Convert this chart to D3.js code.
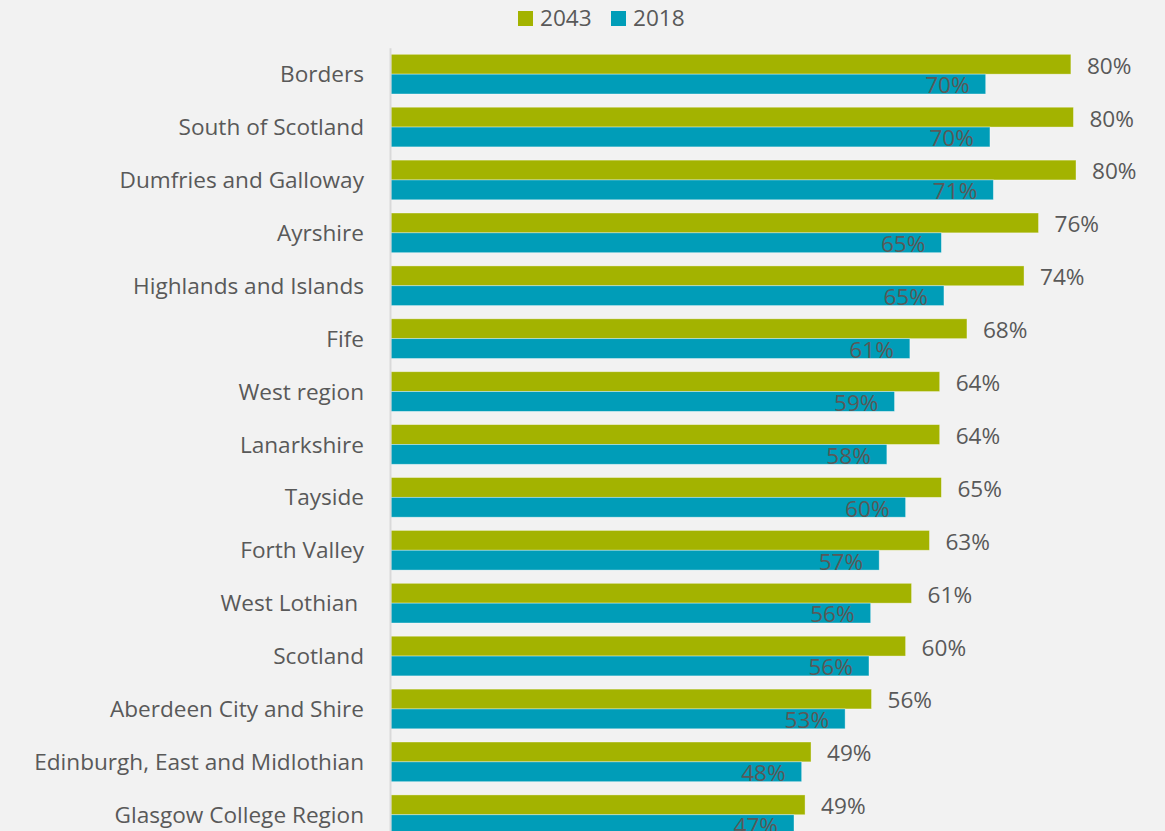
<!DOCTYPE html>
<html>
<head>
<meta charset="utf-8">
<script src="https://cdn.jsdelivr.net/npm/d3@7"></script>
<style>
  body { margin: 0; background: #f2f2f2; }
  svg { display: block; font-family: "Open Sans", sans-serif; }
  .axis text { fill: #595959; font-family: "Open Sans", sans-serif; font-size: 22.6px; white-space: pre; }
  .axis path { stroke: #d9d9d9; stroke-width: 2; }
  .label { fill: #595959; font-size: 22.6px; }
</style>
</head>
<body>
<script>
  var categories = [
    "Borders", "South of Scotland", "Dumfries and Galloway", "Ayrshire",
    "Highlands and Islands", "Fife", "West region", "Lanarkshire", "Tayside",
    "Forth Valley", "West Lothian ", "Scotland", "Aberdeen City and Shire",
    "Edinburgh, East and Midlothian", "Glasgow College Region"
  ];
  var series = ["2043", "2018"];
  var values2043 = [79.8, 80.1, 80.4, 76.0, 74.3, 67.6, 64.4, 64.4, 64.6, 63.2, 61.1, 60.4, 56.4, 49.3, 48.6];
  var values2018 = [69.8, 70.3, 70.7, 64.6, 64.9, 60.9, 59.1, 58.2, 60.4, 57.3, 56.3, 56.1, 53.3, 48.2, 47.3];
  var colors = ["#a3b300", "#009db8"];

  var width = 1165, height = 831;

  var rows = categories.map(function(c, i) {
    return { name: c, values: [values2043[i], values2018[i]] };
  });

  var svg = d3.select("body").append("svg")
      .attr("width", width)
      .attr("height", height);

  var xScale = d3.scaleLinear()
      .domain([0, 100])
      .range([391, 1243]);

  var yScale = d3.scaleBand()
      .domain(categories)
      .range([47.7, 841.2])
      .paddingInner(0.25)
      .paddingOuter(0.125);

  var subScale = d3.scaleBand()
      .domain(series)
      .range([0, yScale.bandwidth()]);

  // legend
  var legend = svg.selectAll(".legend")
      .data(series)
    .enter().append("g")
      .attr("class", "legend")
      .attr("transform", function(d, i) { return "translate(" + (518 + i * 93) + ",11)"; });

  legend.append("rect")
      .attr("width", 15)
      .attr("height", 15)
      .attr("fill", function(d, i) { return colors[i]; });

  legend.append("text")
      .attr("class", "label")
      .attr("x", 22)
      .attr("y", 15)
      .text(function(d) { return d; });

  var groups = svg.selectAll(".group")
      .data(rows)
    .enter().append("g")
      .attr("class", "group")
      .attr("transform", function(d) { return "translate(0," + yScale(d.name) + ")"; });

  groups.selectAll("rect")
      .data(function(d) { return d.values; })
    .enter().append("rect")
      .attr("x", xScale(0))
      .attr("y", function(d, i) { return subScale(series[i]); })
      .attr("width", function(d) { return xScale(d) - xScale(0); })
      .attr("height", subScale.bandwidth())
      .attr("fill", function(d, i) { return colors[i]; })
      .attr("stroke", "rgba(255,255,255,0.45)")
      .attr("stroke-width", 0.8);

  // 2043 labels outside end, 2018 labels inside end
  groups.selectAll(".label")
      .data(function(d) { return d.values; })
    .enter().append("text")
      .attr("class", "label")
      .attr("x", function(d, i) { return i === 0 ? xScale(d) + 16 : xScale(d) - 16; })
      .attr("y", function(d, i) { return subScale(series[i]) + subScale.bandwidth() - 0.5; })
      .attr("text-anchor", function(d, i) { return i === 0 ? "start" : "end"; })
      .text(function(d) { return Math.round(d) + "%"; });

  svg.append("g")
      .attr("class", "axis")
      .attr("transform", "translate(390,0)")
      .call(d3.axisLeft(yScale).tickSize(0).tickPadding(26))
      .call(function(g) { g.selectAll("text").attr("dy", "0.36em"); });
</script>
</body>
</html>
